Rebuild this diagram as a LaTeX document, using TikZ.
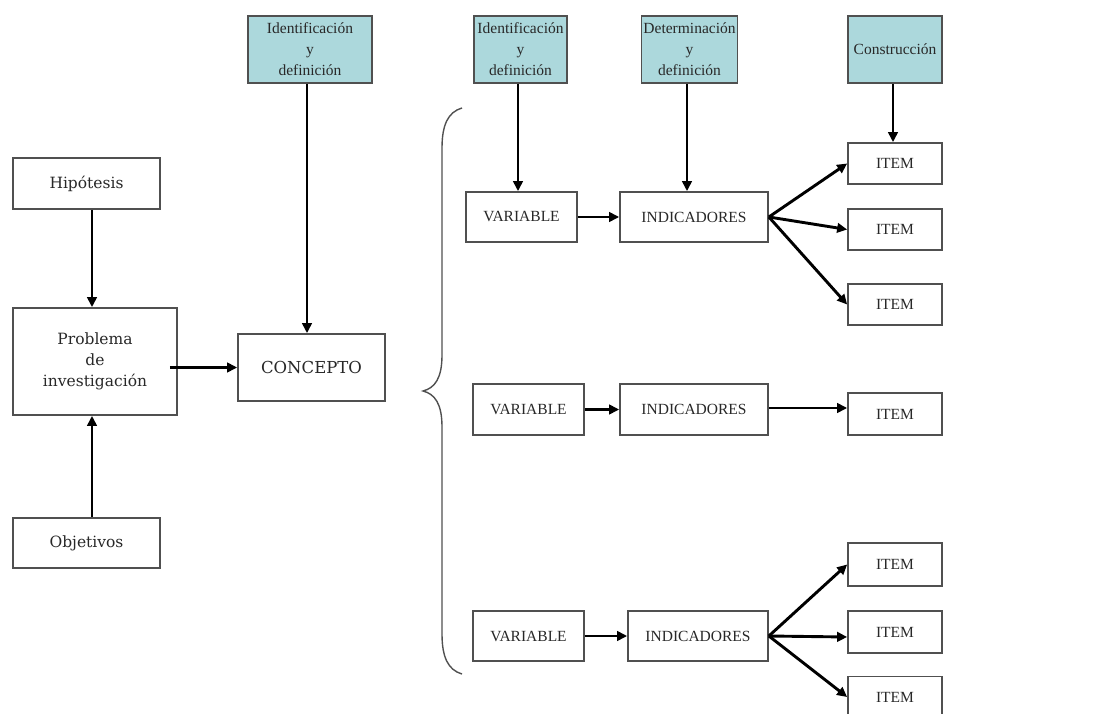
\documentclass[tikz,border=0pt]{standalone}
\usepackage{fontspec}
\setmainfont{Liberation Serif}
\newfontfamily\widefont{DejaVu Serif}
\usetikzlibrary{arrows.meta}
\definecolor{boxline}{RGB}{80,80,80}
\definecolor{stagefill}{RGB}{172,216,220}
\definecolor{txt}{RGB}{40,40,40}
\begin{document}
\begin{tikzpicture}[x=1pt,y=-1pt,
  box/.style={draw=boxline,line width=1.7pt,fill=white,inner sep=2pt,
    align=center,text=txt,font=\fontsize{15.5}{21}\selectfont},
  widebox/.style={box,font=\widefont\fontsize{15.5}{21}\selectfont},
  stage/.style={box,fill=stagefill,minimum height=67pt},
  itembox/.style={box,minimum width=94pt,minimum height=41pt},
  link/.style={line width=2.9pt,-{Triangle[length=10pt,width=9.5pt]}},
  brace/.style={draw=boxline,line width=1.4pt}]
\useasboundingbox (0,0) rectangle (1116,714);

% left column
\node[widebox,minimum width=147pt,minimum height=51pt] (hip) at (86.5,183.5) {Hipótesis};
\node[widebox,minimum width=164pt,minimum height=107pt] (prob) at (95,361.5) {Problema\\de\\investigación};
\node[widebox,minimum width=147pt,minimum height=50pt] (obj) at (86.5,543) {Objetivos};
\node[widebox,minimum width=147pt,minimum height=67pt,font=\widefont\fontsize{16.5}{21}\selectfont] (conc) at (311.5,367.5) {CONCEPTO};
\node[stage,minimum width=124pt] (id0) at (310,49.5) {Identificación\\y\\definición};

% stage headers
\node[stage,minimum width=93pt] (id1) at (520.5,49.5) {Identificación\\y\\definición};
\node[stage,minimum width=93pt] (det) at (689.5,49.5) {Determinación\\y\\definición};
\node[stage,minimum width=94pt] (con) at (895,49.5) {Construcción};

% first row
\node[box,minimum width=111pt,minimum height=50pt] (var1) at (521.5,217) {VARIABLE};
\node[box,minimum width=148pt,minimum height=50pt] (ind1) at (694,217) {INDICADORES};
\node[itembox] (it1) at (895,163.5) {ITEM};
\node[itembox] (it2) at (895,229.5) {ITEM};
\node[itembox] (it3) at (895,304.5) {ITEM};

% second row
\node[box,minimum width=111pt,minimum height=51pt] (var2) at (528.5,409.5) {VARIABLE};
\node[box,minimum width=148pt,minimum height=51pt] (ind2) at (694,409.5) {INDICADORES};
\node[itembox,minimum height=42pt] (it4) at (895,414) {ITEM};

% third row
\node[box,minimum width=111pt,minimum height=50pt] (var3) at (528.5,636) {VARIABLE};
\node[box,minimum width=140pt,minimum height=50pt] (ind3) at (698,636) {INDICADORES};
\node[itembox,minimum height=43pt] (it5) at (895,564.5) {ITEM};
\node[itembox,minimum height=42pt] (it6) at (895,632) {ITEM};
\node[itembox] (it7) at (895,697) {ITEM};

% connectors on the left
\draw[link] ([xshift=5.5pt]hip.south) -- ([xshift=5.5pt]hip.south |- prob.north);
\draw[link] ([xshift=5.5pt]obj.north) -- ([xshift=5.5pt]obj.north |- prob.south);
\draw[link] ([xshift=-8pt]prob.east |- conc.west) -- (conc.west);
\draw[link] ([xshift=-3pt]id0.south) -- ([xshift=-3pt]id0.south |- conc.north);

% stage connectors
\draw[link] ([xshift=-2.5pt]id1.south) -- ([xshift=-2.5pt]id1.south |- var1.north);
\draw[link] ([xshift=-2.5pt]det.south) -- ([xshift=-2.5pt]det.south |- ind1.north);
\draw[link] ([xshift=-2pt]con.south) -- ([xshift=-2pt]con.south |- it1.north);

% rows
\draw[link] (var1.east) -- (ind1.west);
\draw[link] (ind1.east) -- (it1.west);
\draw[link] (ind1.east) -- (it2.west);
\draw[link] (ind1.east) -- (it3.west);

\draw[link] (var2.east) -- (ind2.west);
\draw[link] ([yshift=1.5pt]ind2.east) -- ([yshift=1.5pt]ind2.east -| it4.west);

\draw[link] (var3.east) -- (ind3.west);
\draw[link] (ind3.east) -- (it5.west);
\draw[link] (ind3.east) -- ([yshift=-1pt]ind3.east -| it6.west);
\draw[link] (ind3.east) -- (it7.west);

% curly brace grouping the variables
\coordinate (bt) at (462,108);
\coordinate (bm) at (423,391);
\coordinate (bb) at (462,674);
\draw[brace] (bt) .. controls (448,112) and (442,125) .. (442,148)
  -- (442,355) .. controls (442,378) and (435,388) .. (bm)
  .. controls (435,394) and (442,404) .. (442,427)
  -- (442,634) .. controls (442,657) and (448,670) .. (bb);
\end{tikzpicture}
\end{document}
